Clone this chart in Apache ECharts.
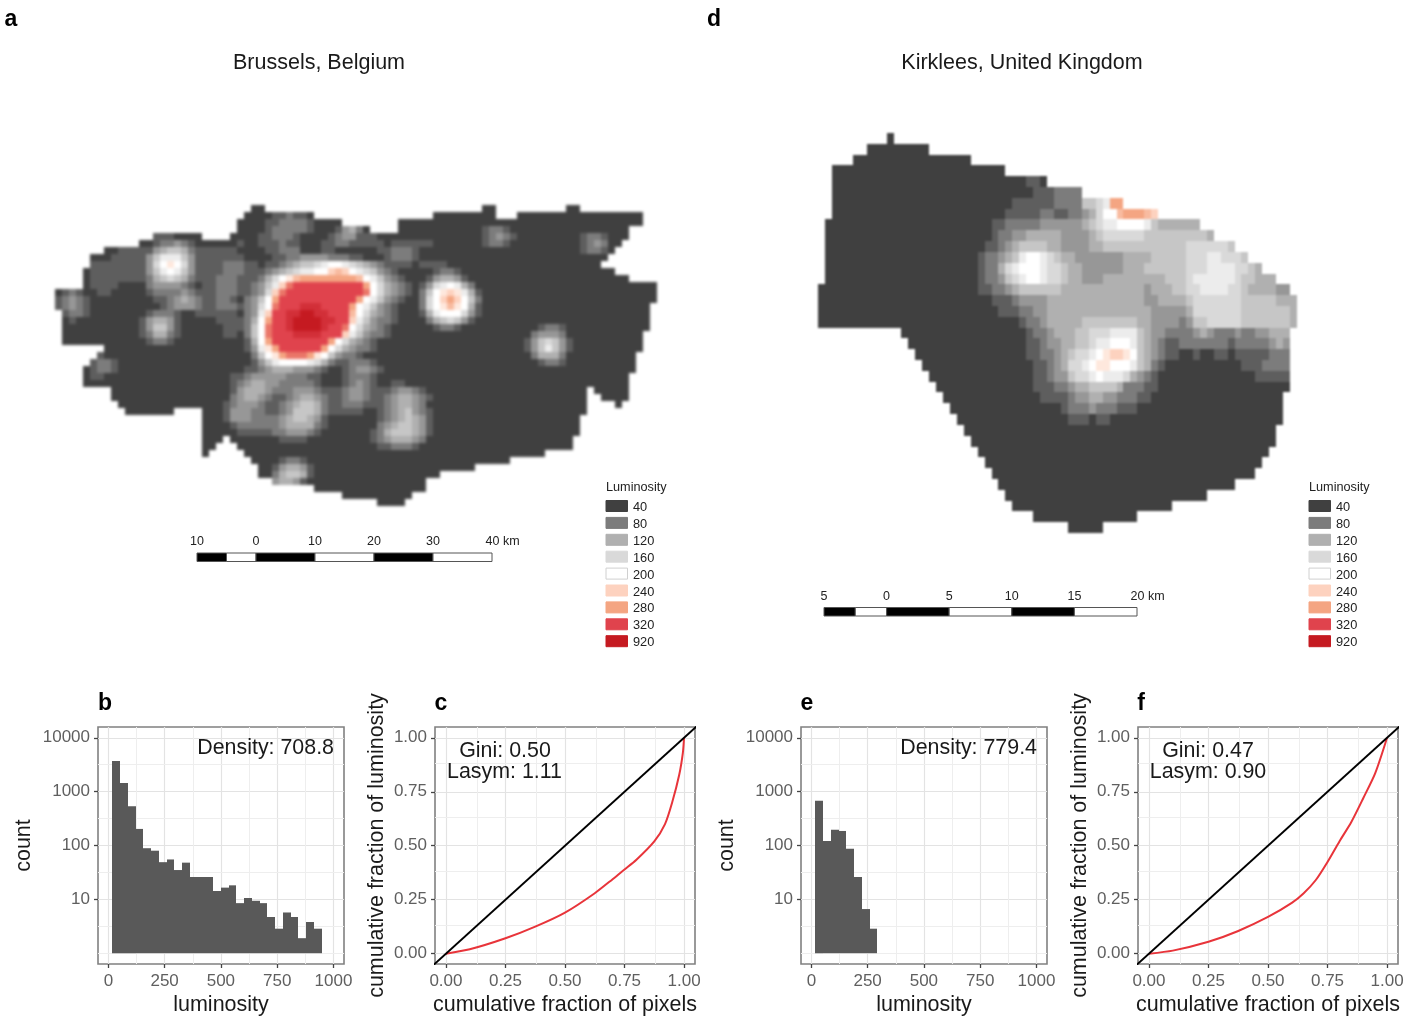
<!DOCTYPE html>
<html><head><meta charset="utf-8">
<style>html,body{margin:0;padding:0;background:#fff}#c{width:1411px;height:1022px}</style>
<script src="https://cdn.jsdelivr.net/npm/echarts@6/dist/echarts.min.js"></script>
</head><body><div id="c"></div>
<script>
// ---------- luminosity scale ----------
const levelValues = [40,60,80,100,120,140,160,180,200,220,240,260,280,300,320,620,920];
const levelColors = ['#404040','#5e5e5e','#7c7c7c','#979797','#b0b0b0','#c6c6c6','#d9d9d9','#ececec','#ffffff','#fee8dd','#fdd2bf','#f8bba0','#f4a582','#ea7668','#e0434d','#d22f38','#c51a21'];
const legendLabels = ['40','80','120','160','200','240','280','320','920'];
const legendColors = ['#404040','#7c7c7c','#b0b0b0','#d9d9d9','#ffffff','#fdd2bf','#f4a582','#e0434d','#c51a21'];

// ---------- Brussels raster: col ranges per row, then cells brighter than the base level ----------
const brusselsExtent = ["28-29 61-62 73-74","27-36 54-62 66-83","26-40 49-83","26-44 49-81","14-20 25-81","12-80","7-79","5-78","5-77","4-79","4-81","4-85","0-85","0-85","0-84","1-84","1-84","1-84","1-83","1-83","7-83","6-82","5-82","4-82","4-81","4-81","8-75 77-81","8-75 78-81","9-75 80-80","10-16 21-75","21-74","21-74","21-74","21-23 25-73","21-22 26-73","21-21 27-69","28-64","29-59","29-54","31-52","37-52","41-50","46-49"];
const brusselsCells = [
"",
"31:11211",
"30:1122221",
"30:1222221 40:1342 61:1221",
"14:111 29:112221 39:12331 44:11 61:12321 75:1221",
"14:122321 26:1 29:111211 38:112211111 48:111111 61:1221 75:1232",
"9:1111 13:13455421 21:11111 30:11222 38:11 46:112221 75:1221",
"8:1111 12:135777531 21:111111 31:1122333322211 47:12221",
"5:1111111 12:1368986311 22:1122211 30:112345567887654321 48:111 52:1111",
"5:1111111 12:135787531 21:11122211 29:1234567788aba8765321 54:1221",
"5:1111111 12:124565421 21:112221 27:1124689bccccccccb875321 53:134431",
"5:1111 13:2333321 21:112221 27:12357adeeeeeeeeeec864321 52:13678742",
"1:121 6:11 13:12222321 21:112221 27:1236adeeeeeeeeeeed864321 52:2589a9741",
"0:12321 14:1123432 21:11221 27:2358ceeeeeeeeeeec875321 52:268aca852",
"0:12321 15:1233321 22:12221 27:2368deeefffeeeec875321 52:2689b9841",
"1:1221 13:12221 20:11 22:1111 27:237aeeffggffeeeb864321 52:147888631",
"2:1 12:134431 23:1111 27:248ceefggggffeea753221 53:2456531",
"12:135531 24:111 27:258deefggggfeed864321 54:1221 69:1221",
"12:124421 24:11 27:258deeeffffeeea753221 68:23332",
"13:1221 27:148ceeeeeeeec864321 67:1356531",
"27:1379ceeeeeec8643221 67:1357531",
"6:1 28:2589cdddc9853221 68:24442",
"5:1221 28:135788887642112221 69:1221",
"5:1221 27:11234443332100123321",
"5:11 25:112333332221100012221",
"25:123443322222100012321 48:11",
"25:1344432223332111233211123321",
"25:23443211234432112332112344321",
"24:12333211234554211222111234432",
"24:13332211235554211111 46:12345321",
"24:133322223455431 46:12345431",
"25:12222223444421 46:23455431",
"26:111112233321 45:124555431",
"32:1111 45:12344432",
"46:112221",
"",
"32:1221",
"31:134431",
"31:245541",
"31:34431",
"","",""
];

// ---------- Kirklees raster ----------
const kirkleesExtent = ["10-10","7-15","5-21","2-26","2-32","2-37","2-43","2-48","1-54","1-56","1-59","1-61","1-63","1-65","0-67","0-68","0-68","0-68","12-67","13-67","14-67","15-67","16-67","17-67","18-66","19-66","20-66","21-65","22-65","23-64","24-63","25-62","26-59","27-55","28-50","31-45","36-40"];
const kirkleesCells = [
"","","","",
"28:0011011",
"28:0001112222",
"28:11111122225567cc",
"27:1111122112234688bcccba",
"25:112222233333345677888875444444",
"25:122334444433334566666655555555 54",
"24:11234555544333344555555555555666666 5",
"23:122345788765443333333444455555666776665",
"23:122467888766544333333444555555666777766 54",
"23:122356788766544333444444444555677777 7655444",
"23:1122345555554444444444443444556677776654444 33",
"25:111233334444444444444433444456666666555554 44",
"26:11122334444444444444443333346666666555555 54",
"29:1223444445555555544333323556666655555554",
"30:12234445566677775433222234322232233444",
"30:11233445567788875432112222222122222343",
"30:112234566789aa985432110010011011111222",
"31:1123466789988875421 61:1112222",
"31:112335667877764321 63:11111",
"31:111223445555422211",
"32:1111233443322211",
"35:12223222111",
"36:111011",
"","","","","","","","","",""
];

// ---------- histograms ----------
const histBStart = 18, histBWidth = 34.44;
const histBCounts = [3715,1450,535,203,89,80,49,55,35,48,26,26,26,14.3,16.5,18.2,8.5,10.6,9.4,8.5,4.7,2.85,5.7,4.7,1.9,3.8,2.85];
const histEStart = 18, histEWidth = 34.4;
const histECounts = [676,121,196,186,87,26,6.6,2.85];

// ---------- Lorenz curves ----------
const lorenzC = [[0,0],[0.1,0.02],[0.25,0.071],[0.375,0.125],[0.5,0.19],[0.625,0.28],[0.7,0.345],[0.75,0.39],[0.8,0.435],[0.875,0.52],[0.92,0.6],[0.95,0.7],[0.98,0.83],[0.995,0.93],[1,1]];
const lorenzF = [[0,0],[0.1,0.014],[0.25,0.055],[0.375,0.105],[0.5,0.17],[0.6,0.235],[0.65,0.28],[0.7,0.34],[0.75,0.425],[0.8,0.52],[0.85,0.61],[0.9,0.72],[0.95,0.835],[1,1]];
const identity = [[-0.06,-0.06],[1.06,1.06]];

// ---------- axis ticks ----------
const lumTicks = [0,250,500,750,1000];
const lumMinor = [125,375,625,875];
const countTicks = [10,100,1000,10000];
const countMinor = [1,3.16,31.6,316,3162];
const fracTicks = [0,0.25,0.5,0.75,1];
const fracMinor = [0.125,0.375,0.625,0.875];

// ---------- scale bars ----------
const scaleASegments = [[-10,-5,1],[-5,0,0],[0,10,1],[10,20,0],[20,30,1],[30,40,0]];
const scaleATicks = [-10,0,10,20,30,40];
const scaleDSegments = [[-5,-2.5,1],[-2.5,0,0],[0,5,1],[5,10,0],[10,15,1],[15,20,0]];
const scaleDTicks = [-5,0,5,10,15,20];

// ---------- helpers ----------
const FONT = '"Liberation Sans", Arial, sans-serif';
function raster(extent, cells){
  const out = [];
  extent.forEach((ext, r) => {
    const over = {};
    (cells[r] || '').split(' ').forEach(seg => {
      if (!seg) return;
      const [c, s] = seg.split(':');
      [...s].forEach((ch, i) => { over[+c + i] = parseInt(ch, 36); });
    });
    ext.split(' ').forEach(rng => {
      const [a, b] = rng.split('-').map(Number);
      for (let c = a; c <= b; c++) out.push([c, r, levelValues[over[c] || 0]]);
    });
  });
  return out;
}
function normalise(rows){ return rows.map(row => row.split(' ').reduce((acc, p) => {
  if (p.includes(':') || !acc.length) acc.push(p); else acc[acc.length-1] += p;
  return acc; }, []).join(' ')); }
const seq = n => Array.from({length:n}, (_, i) => i);

const grids = [], xAxes = [], yAxes = [], series = [], texts = [];

function addMap(rect, cols, rows, data, zlevel){
  const i = grids.length;
  grids.push(rect);
  xAxes.push({gridIndex:i,type:'category',data:seq(cols),show:false});
  yAxes.push({gridIndex:i,type:'category',data:seq(rows),inverse:true,show:false});
  series.push({type:'custom',xAxisIndex:i,yAxisIndex:i,data,zlevel,silent:true,animation:false,progressive:0,encode:{x:0,y:1},
    renderItem(p, api){
      const c = api.coord([api.value(0), api.value(1)]), s = api.size([1,1]);
      const x0 = Math.round(c[0]-s[0]/2), x1 = Math.round(c[0]+s[0]/2), y0 = Math.round(c[1]-s[1]/2), y1 = Math.round(c[1]+s[1]/2);
      return {type:'rect',shape:{x:x0,y:y0,width:x1-x0,height:y1-y0},style:{fill:levelColors[levelValues.indexOf(api.value(2))]}};
    }});
}
const tickLabel = {fontFamily:FONT,fontSize:17,color:'#5f5f5f'};
const axisName = {fontFamily:FONT,fontSize:21.5,color:'#1a1a1a'};
const major = {show:true,lineStyle:{color:'#e3e3e3',width:1.2}};
function addPanel(rect, xa, ya, marks, minorX, minorY){
  const i = grids.length;
  grids.push(Object.assign({show:true,backgroundColor:'#fff',borderColor:'#808080',borderWidth:1.6}, rect));
  const tick = vals => ({show:true,length:4,lineStyle:{color:'#444',width:1.3},customValues:vals});
  xAxes.push(Object.assign({gridIndex:i,type:'value',axisLine:{show:false,onZero:false},splitLine:major,minorSplitLine:{show:false},
    axisTick:tick(xa.vals),axisLabel:Object.assign({customValues:xa.vals,formatter:xa.fmt,margin:9},tickLabel),
    nameLocation:'middle',nameTextStyle:axisName,nameGap:30}, xa.opt));
  yAxes.push(Object.assign({gridIndex:i,axisLine:{show:false,onZero:false},splitLine:major,minorSplitLine:{show:false},
    axisTick:tick(ya.vals),axisLabel:Object.assign({customValues:ya.vals,formatter:ya.fmt,margin:8,padding:[3,0,0,0]},tickLabel),
    nameLocation:'middle',nameTextStyle:axisName}, ya.opt));
  series.push({type:'line',xAxisIndex:i,yAxisIndex:i,data:[],z:1,silent:true,
    markLine:{z:1,silent:true,animation:false,symbol:'none',label:{show:false},lineStyle:{color:'#eeeeee',width:1,type:'solid'},
      data:minorX.map(v=>({xAxis:v})).concat(minorY.map(v=>({yAxis:v})))}});
  marks(i).forEach(s => series.push(s));
}
function hist(i, start, width, counts){
  const data = counts.map((c, k) => [start + k*width, start + (k+1)*width, c]);
  return {type:'custom',xAxisIndex:i,yAxisIndex:i,data,z:3,silent:true,animation:false,
    encode:{x:[0,1],y:2},
    renderItem(p, api){
      const a = api.coord([api.value(0), api.value(2)]);
      const b = api.coord([api.value(1), 1]);
      const x0 = Math.round(a[0]), x1 = Math.round(b[0]);
      return {type:'rect',shape:{x:x0,y:a[1],width:x1-x0,height:b[1]-a[1]},style:{fill:'#595959'}};
    }};
}
function lorenz(i, curve){
  return [
    {type:'line',xAxisIndex:i,yAxisIndex:i,data:curve,smooth:0.25,showSymbol:false,silent:true,animation:false,z:3,lineStyle:{color:'#e8343a',width:2}},
    {type:'line',xAxisIndex:i,yAxisIndex:i,data:identity,showSymbol:false,silent:true,animation:false,z:4,lineStyle:{color:'#000',width:2}}
  ];
}
function addScale(rect, min, max, segments, ticks){
  const i = grids.length;
  grids.push(rect);
  xAxes.push({gridIndex:i,type:'value',min,max,show:false});
  yAxes.push({gridIndex:i,type:'value',min:0,max:1,show:false});
  series.push({type:'custom',xAxisIndex:i,yAxisIndex:i,data:segments,silent:true,animation:false,encode:{x:[0,1]},
    renderItem(p, api){
      const a = api.coord([api.value(0),1]), b = api.coord([api.value(1),0]);
      return {type:'rect',shape:{x:a[0],y:a[1],width:b[0]-a[0],height:b[1]-a[1]},
        style:{fill:api.value(2)?'#000':'#fff',stroke:'#555',lineWidth:1}};
    }});
  series.push({type:'custom',xAxisIndex:i,yAxisIndex:i,data:ticks.map(v=>[v,1]),silent:true,animation:false,encode:{x:0,y:1},clip:false,
    renderItem(p, api){
      const v = api.value(0), a = api.coord([v,1]), last = p.dataIndex === ticks.length-1;
      return {type:'text',x:last?a[0]-6.5:a[0],y:a[1]-11,style:{text:Math.abs(v)+(last?' km':''),fill:'#222',
        font:'12.5px '+FONT,textAlign:last?'left':'center',textVerticalAlign:'middle'}};
    }});
}
function text(x,y,str,size,opts){
  texts.push({type:'text',x,y:y+1.5,z:100,silent:true,style:Object.assign({text:str,fill:'#1a1a1a',font:size+'px '+FONT,textAlign:'center',textVerticalAlign:'middle'},opts||{})});
}
function legend(x0, xt){
  text(x0,486,'Luminosity',12.7,{textAlign:'left',fill:'#222'});
  legendLabels.forEach((lab,k)=>{
    const y = 506 + k*16.9;
    texts.push({type:'rect',silent:true,shape:{x:x0,y:y-5.5,width:21.5,height:11},
      style:{fill:legendColors[k],stroke:k===4?'#d0d0d0':legendColors[k],lineWidth:1}});
    text(xt,y,lab,12.8,{textAlign:'left',fill:'#222'});
  });
}

// ---------- build ----------
addMap({left:55,top:205,width:602,height:301},86,43,raster(brusselsExtent,normalise(brusselsCells)),1);
addMap({left:818,top:133,width:479,height:400},69,37,raster(kirkleesExtent,normalise(kirkleesCells)),2);

const rows = {top:727,height:237};
const lumX = {vals:lumTicks,fmt:v=>String(v),opt:{min:-46,max:1047,name:'luminosity'}};
const cntY = {vals:countTicks,fmt:v=>String(v),opt:{type:'log',logBase:10,min:0.63,max:15849,name:'count',nameGap:63}};
const fracFmt = v=>v.toFixed(2);
const frX = {vals:fracTicks,fmt:fracFmt,opt:{min:-0.046,max:1.046,name:'cumulative fraction of pixels'}};
const frY = {vals:fracTicks,fmt:fracFmt,opt:{type:'value',min:-0.048,max:1.05,name:'cumulative fraction of luminosity',nameGap:47}};

addPanel(Object.assign({left:98,width:246},rows),lumX,cntY,i=>[hist(i,histBStart,histBWidth,histBCounts)],lumMinor,countMinor);
addPanel(Object.assign({left:435,width:260},rows),frX,frY,i=>lorenz(i,lorenzC),fracMinor,fracMinor);
addPanel(Object.assign({left:801,width:246},rows),lumX,cntY,i=>[hist(i,histEStart,histEWidth,histECounts)],lumMinor,countMinor);
addPanel(Object.assign({left:1138,width:260},rows),frX,frY,i=>lorenz(i,lorenzF),fracMinor,fracMinor);

addScale({left:197,top:553,width:295,height:8.5},-10,40,scaleASegments,scaleATicks);
addScale({left:824,top:607.5,width:313,height:8.5},-5,20,scaleDSegments,scaleDTicks);

text(319,62,'Brussels, Belgium',21.5);
text(1022,62,'Kirklees, United Kingdom',21.5);
[['a',11,18],['d',714,18],['b',105,702],['c',441,702],['e',807,702],['f',1141,702]].forEach(t=>
  text(t[1],t[2],t[0],23,{font:'bold 23px '+FONT,fill:'#000'}));
text(334,747,'Density: 708.8',21.4,{textAlign:'right'});
text(1037,747,'Density: 779.4',21.4,{textAlign:'right'});
text(505,749.5,'Gini: 0.50',21.4);
text(504.5,771,'Lasym: 1.11',21.4);
text(1208,749.5,'Gini: 0.47',21.4);
text(1208,771,'Lasym: 0.90',21.4);
legend(606,633);
legend(1309,1336);

const chart = echarts.init(document.getElementById('c'),null,{renderer:'canvas'});
chart.setOption({
  animation:false,
  backgroundColor:'#fff',
  grid:grids,xAxis:xAxes,yAxis:yAxes,series,
  graphic:{elements:texts}
});
// the reference is a soft photograph of the figure: the Brussels raster most of all
const layers = document.querySelectorAll('#c canvas');
const softness = ['blur(0.5px)','blur(1.6px)','blur(0.8px)'];
layers.forEach((cv,i)=>{ if (softness[i]) cv.style.filter = softness[i]; });
</script></body></html>
